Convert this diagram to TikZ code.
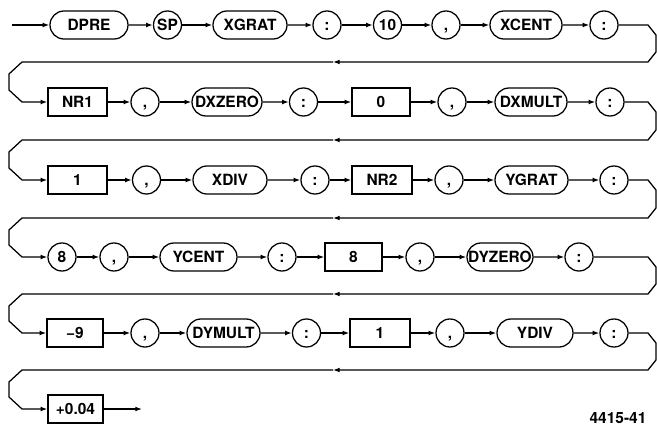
\documentclass[tikz,border=0pt]{standalone}
\usepackage{fontspec}
\setmainfont{TeX Gyre Heros}
\usetikzlibrary{shapes.misc,arrows.meta}
\begin{document}
\begin{tikzpicture}[x=0.75pt,y=-0.75pt,
  every node/.style={font=\fontsize{11.6}{13}\selectfont\bfseries, inner sep=0pt, text height=8.3pt, text depth=0pt},
  ovalnode/.style={draw, line width=0.95pt, rounded rectangle, minimum height=21pt, minimum width=#1*0.75pt},
  circ/.style={draw, line width=0.95pt, circle, minimum size=21pt},
  boxnode/.style={draw, line width=0.95pt, rectangle, minimum height=21pt, minimum width=#1*0.75pt},
  conn/.style={line width=0.95pt, -{Latex[length=5pt,width=3.6pt]}}]
\path[fill=white,use as bounding box] (0,0) rectangle (657,431);

% Row 1
\coordinate (start) at (12,25);
\node[ovalnode=78] (r1a) at (89,25) {DPRE};
\node[circ] (r1b) at (167.5,25) {SP};
\node[ovalnode=74] (r1c) at (250,25) {XGRAT};
\node[circ] (r1d) at (327,25) {:};
\node[circ] (r1e) at (387.5,25) {10};
\node[circ] (r1f) at (446,25) {,};
\node[ovalnode=72] (r1g) at (526,25) {XCENT};
\node[circ] (r1h) at (604,25) {:};

% Row 2
\node[boxnode=59] (r2a) at (77.5,102) {NR1};
\node[circ] (r2b) at (145,102) {,};
\node[ovalnode=70] (r2c) at (227,102) {DXZERO};
\node[circ] (r2d) at (303.5,102) {:};
\node[boxnode=58] (r2e) at (381,102) {0};
\node[circ] (r2f) at (452,102) {,};
\node[ovalnode=72] (r2g) at (531,102) {DXMULT};
\node[circ] (r2h) at (610,102) {:};

% Row 3
\node[boxnode=59] (r3a) at (77.5,180) {1};
\node[circ] (r3b) at (146.5,180) {,};
\node[ovalnode=74] (r3c) at (230,180) {XDIV};
\node[circ] (r3d) at (315,180) {:};
\node[boxnode=60] (r3e) at (382,180) {NR2};
\node[circ] (r3f) at (449,180) {,};
\node[ovalnode=73] (r3g) at (531.5,180) {YGRAT};
\node[circ] (r3h) at (614,180) {:};

% Row 4
\node[circ] (r4a) at (62,257) {8};
\node[circ] (r4b) at (114,257) {,};
\node[ovalnode=77] (r4c) at (198.5,257) {YCENT};
\node[circ] (r4d) at (282,257) {:};
\node[boxnode=57] (r4e) at (353.5,257) {8};
\node[circ] (r4f) at (420,257) {,};
\node[ovalnode=66] (r4g) at (500,257) {DYZERO};
\node[circ] (r4h) at (579,257) {:};

% Row 5
\node[boxnode=56] (r5a) at (75,333) {−9};
\node[circ] (r5b) at (145,333) {,};
\node[ovalnode=73] (r5c) at (223.5,333) {DYMULT};
\node[circ] (r5d) at (306.5,333) {:};
\node[boxnode=60] (r5e) at (380,333) {1};
\node[circ] (r5f) at (450,333) {,};
\node[ovalnode=76] (r5g) at (535,333) {YDIV};
\node[circ] (r5h) at (614,333) {:};

% Row 6
\node[boxnode=55] (r6a) at (75.5,409) {+0.04};
\coordinate (finish) at (142,409);

\node (lbl) at (618,418) {4415-41};

% connectors within rows
\draw[conn] (start) -- (r1a);
\foreach \r in {1,...,5}{
  \draw[conn] (r\r a) -- (r\r b);
  \draw[conn] (r\r b) -- (r\r c);
  \draw[conn] (r\r c) -- (r\r d);
  \draw[conn] (r\r d) -- (r\r e);
  \draw[conn] (r\r e) -- (r\r f);
  \draw[conn] (r\r f) -- (r\r g);
  \draw[conn] (r\r g) -- (r\r h);
}
\draw[conn] (r6a) -- (finish);

% return paths
\coordinate (m1) at (333,62);
\coordinate (m2) at (333,140);
\coordinate (m3) at (333,218);
\coordinate (m4) at (333,294);
\coordinate (m5) at (333,370);

\draw[conn] (r1h) -- (648,25) -- (656,35) -- (656,52) -- (648,62) -- (m1);
\draw[conn] (m1) -- (22,62) -- (9,74) -- (9,90) -- (22,102) -- (r2a);

\draw[conn] (r2h) -- (648,102) -- (656,112) -- (656,130) -- (648,140) -- (m2);
\draw[conn] (m2) -- (22,140) -- (9,152) -- (9,168) -- (22,180) -- (r3a);

\draw[conn] (r3h) -- (648,180) -- (656,190) -- (656,208) -- (648,218) -- (m3);
\draw[conn] (m3) -- (22,218) -- (9,230) -- (9,245) -- (22,257) -- (r4a);

\draw[conn] (r4h) -- (648,257) -- (656,267) -- (656,284) -- (648,294) -- (m4);
\draw[conn] (m4) -- (22,294) -- (9,306) -- (9,321) -- (22,333) -- (r5a);

\draw[conn] (r5h) -- (648,333) -- (656,343) -- (656,360) -- (648,370) -- (m5);
\draw[conn] (m5) -- (22,370) -- (9,382) -- (9,397) -- (22,409) -- (r6a);
\end{tikzpicture}
\end{document}
